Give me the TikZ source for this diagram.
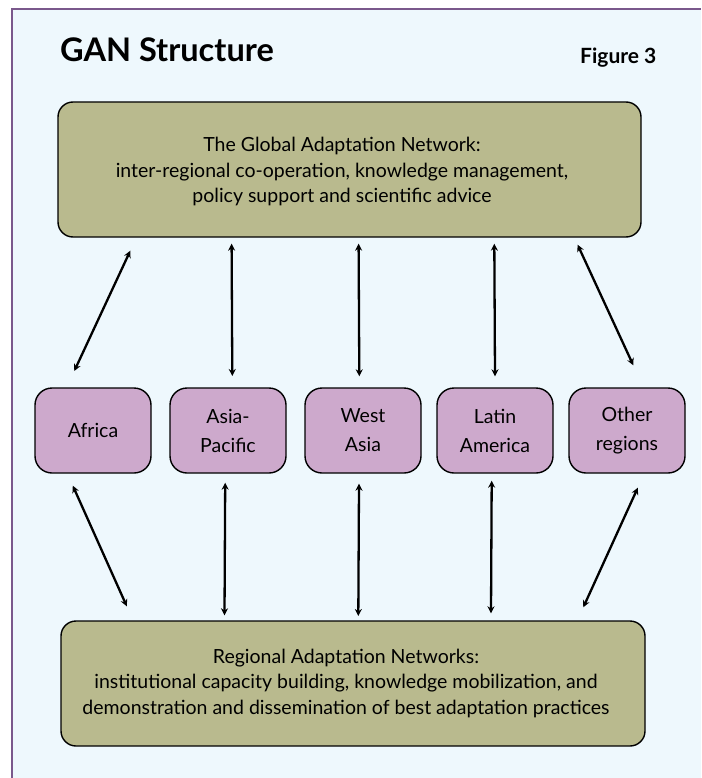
\documentclass[tikz,border=0pt]{standalone}
\usepackage{fontspec}
\setmainfont{Lato}
\usetikzlibrary{arrows.meta}
\definecolor{bgc}{RGB}{238,248,253}
\definecolor{framec}{RGB}{122,88,140}
\definecolor{olivec}{RGB}{185,186,142}
\definecolor{lilacc}{RGB}{205,169,204}
\tikzset{
  bigbox/.style={draw=black, line width=1.4pt, fill=olivec, rounded corners=15pt, inner sep=0pt},
  regbox/.style={draw=black, line width=1.4pt, fill=lilacc, rounded corners=17pt, inner sep=0pt,
    minimum width=116pt, minimum height=85pt, align=center,
    font=\fontsize{19.5}{29}\selectfont},
  bigtext/.style={align=center, inner sep=0pt, font=\fontsize{19.5}{25.5}\selectfont},
  arr/.style={{Stealth[length=7pt,width=7pt]}-{Stealth[length=7pt,width=7pt]}, line width=2.3pt, black}
}
\begin{document}
\begin{tikzpicture}[x=1pt,y=-1pt]
\useasboundingbox (0,0) rectangle (701,778);
\fill[white] (0,0) rectangle (701,778);
\fill[bgc] (11.5,9.5) rectangle (701,778);
\draw[framec, line width=2pt] (11.5,778) -- (11.5,9.5) -- (701,9.5);

\node[anchor=base west, inner sep=0pt, font=\fontsize{32.5}{36}\selectfont\bfseries] (title) at (60,62) {GAN Structure};
\node[anchor=base west, inner sep=0pt, font=\fontsize{21}{24}\selectfont\bfseries] (fig) at (580,64) {Figure 3};

\node[bigbox, minimum width=583pt, minimum height=135pt] (top) at (349.5,169.5) {};
\node[bigtext] (toptext) at (342,171.5) {The Global Adaptation Network:\\inter-regional co-operation, knowledge management,\\policy support and scientific advice};

\node[regbox] (afr) at (93,430.5) {Africa};
\node[regbox] (ap) at (228,430.5) {Asia-\\Pacific};
\node[regbox] (wa) at (363,430.5) {West\\Asia};
\node[regbox] (la) at (495,430.5) {Latin\\America};
\node[regbox] (oth) at (627,430.5) {Other\\regions};

\node[bigbox, minimum width=584pt, minimum height=125pt] (bot) at (353,683.5) {};
\node[bigtext] (bottext) at (346,683) {Regional Adaptation Networks:\\institutional capacity building, knowledge mobilization, and\\demonstration and dissemination of best adaptation practices};

% top arrows
\draw[arr] ([xshift=73pt,yshift=-13pt]top.south west) -- ([xshift=-18.7pt,yshift=16.3pt]afr.north);
\draw[arr] ([xshift=174.3pt,yshift=-6pt]top.south west) -- ([xshift=4.3pt,yshift=11.3pt]ap.north);
\draw[arr] ([xshift=301.3pt,yshift=-6pt]top.south west) -- ([xshift=-3.7pt,yshift=11pt]wa.north);
\draw[arr] ([xshift=437pt,yshift=-6pt]top.south west) -- ([xshift=0pt,yshift=11pt]la.north);
\draw[arr] ([xshift=520.3pt,yshift=-7pt]top.south west) -- ([xshift=6.3pt,yshift=22pt]oth.north);

% bottom arrows
\draw[arr] ([xshift=-20.2pt,yshift=-12pt]afr.south) -- ([xshift=66.5pt,yshift=14pt]bot.north west);
\draw[arr] ([xshift=-2.8pt,yshift=-9pt]ap.south) -- ([xshift=164.2pt,yshift=5pt]bot.north west);
\draw[arr] ([xshift=-4pt,yshift=-10pt]wa.south) -- ([xshift=298pt,yshift=4.3pt]bot.north west);
\draw[arr] ([xshift=-3.3pt,yshift=-7pt]la.south) -- ([xshift=430.7pt,yshift=7pt]bot.north west);
\draw[arr] ([xshift=10.8pt,yshift=-14pt]oth.south) -- ([xshift=523pt,yshift=13pt]bot.north west);
\end{tikzpicture}
\end{document}
